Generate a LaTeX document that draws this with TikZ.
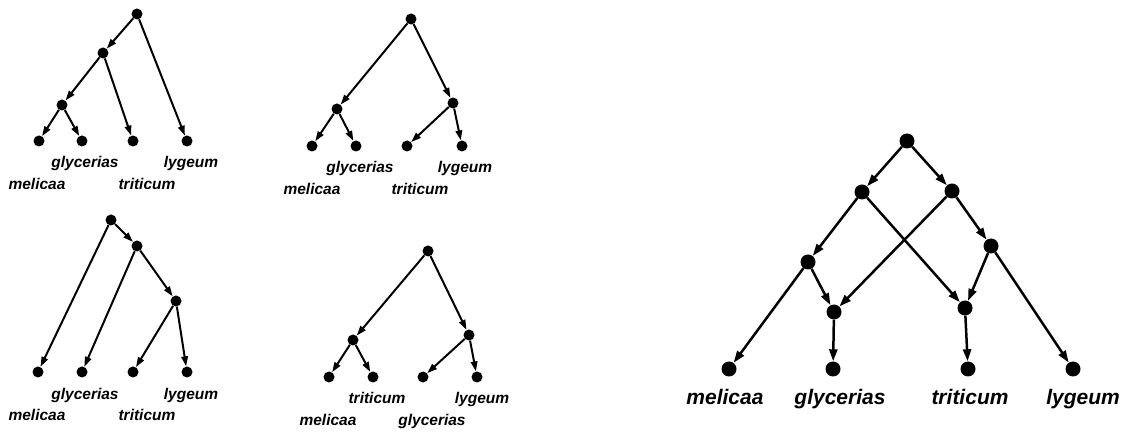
\documentclass[tikz,border=0pt]{standalone}
\usepackage{fontspec}
\setmainfont{Liberation Sans}
\usetikzlibrary{arrows.meta}
\begin{document}
\begin{tikzpicture}[x=1pt,y=-1pt,
  dot/.style={circle,fill=black,inner sep=0pt,minimum size=11pt},
  bigdot/.style={circle,fill=black,inner sep=0pt,minimum size=15pt},
  arr/.style={-{Triangle[length=10pt,width=6.5pt]},line width=2pt},
  bigarr/.style={-{Triangle[length=12pt,width=8pt]},line width=2.5pt},
  lbl/.style={inner sep=0pt,text height=0.72em,text depth=0.2em,font=\fontsize{15.5}{18}\selectfont\bfseries\itshape},
  biglbl/.style={inner sep=0pt,text height=0.72em,text depth=0.2em,font=\fontsize{21}{24}\selectfont\bfseries\itshape}]
\useasboundingbox (0,0) rectangle (1122,435);

% Tree 1
\node[dot] (a0) at (137,14) {};
\node[dot] (a1) at (103,53) {};
\node[dot] (a2) at (62,105) {};
\node[dot] (am) at (39,141) {};
\node[dot] (ag) at (82,141) {};
\node[dot] (at) at (133,141) {};
\node[dot] (al) at (187,141) {};
\draw[arr] (a0) -- (a1);
\draw[arr] (a0) -- (al);
\draw[arr] (a1) -- (a2);
\draw[arr] (a1) -- (at);
\draw[arr] (a2) -- (am);
\draw[arr] (a2) -- (ag);
\node[lbl] (agl) at (85,165) {glycerias};
\node[lbl] (all) at (191,165) {lygeum};
\node[lbl] (aml) at (37,187) {melicaa};
\node[lbl] (atl) at (147,187) {triticum};

% Tree 2
\node[dot] (b0) at (411,19) {};
\node[dot] (b1) at (337,109) {};
\node[dot] (b2) at (453,103) {};
\node[dot] (bm) at (312,146) {};
\node[dot] (bg) at (356,146) {};
\node[dot] (bt) at (407,146) {};
\node[dot] (bl) at (462,146) {};
\draw[arr] (b0) -- (b1);
\draw[arr] (b0) -- (b2);
\draw[arr] (b1) -- (bm);
\draw[arr] (b1) -- (bg);
\draw[arr] (b2) -- (bt);
\draw[arr] (b2) -- (bl);
\node[lbl] (bgl) at (360,170) {glycerias};
\node[lbl] (bll) at (465,170) {lygeum};
\node[lbl] (bml) at (312,192) {melicaa};
\node[lbl] (btl) at (420,192) {triticum};

% Tree 3
\node[dot] (c0) at (111,220) {};
\node[dot] (c1) at (137,246) {};
\node[dot] (c2) at (176,301) {};
\node[dot] (cm) at (38,372) {};
\node[dot] (cg) at (82,372) {};
\node[dot] (ct) at (133,372) {};
\node[dot] (cl) at (187,372) {};
\draw[arr] (c0) -- (c1);
\draw[arr] (c0) -- (cm);
\draw[arr] (c1) -- (cg);
\draw[arr] (c1) -- (c2);
\draw[arr] (c2) -- (ct);
\draw[arr] (c2) -- (cl);
\node[lbl] (cgl) at (85,397) {glycerias};
\node[lbl] (cll) at (191,397) {lygeum};
\node[lbl] (cml) at (37,418) {melicaa};
\node[lbl] (ctl) at (147,418) {triticum};

% Tree 4
\node[dot] (d0) at (428,251) {};
\node[dot] (d1) at (353,340) {};
\node[dot] (d2) at (469,335) {};
\node[dot] (dm) at (329,377) {};
\node[dot] (dt) at (373,377) {};
\node[dot] (dg) at (423,377) {};
\node[dot] (dl) at (477,377) {};
\draw[arr] (d0) -- (d1);
\draw[arr] (d0) -- (d2);
\draw[arr] (d1) -- (dm);
\draw[arr] (d1) -- (dt);
\draw[arr] (d2) -- (dg);
\draw[arr] (d2) -- (dl);
\node[lbl] (dtl) at (377,401) {triticum};
\node[lbl] (dll) at (482,401) {lygeum};
\node[lbl] (dml) at (328,423) {melicaa};
\node[lbl] (dgl) at (432,423) {glycerias};

% Tree 5 (network)
\node[bigdot] (e0) at (907,141) {};
\node[bigdot] (eA) at (862,192) {};
\node[bigdot] (eB) at (952,191) {};
\node[bigdot] (eC) at (808,262) {};
\node[bigdot] (eD) at (991,246) {};
\node[bigdot] (eG) at (834,312) {};
\node[bigdot] (eT) at (965,308) {};
\node[bigdot] (em) at (729,369) {};
\node[bigdot] (eg) at (833,369) {};
\node[bigdot] (et) at (968,369) {};
\node[bigdot] (el) at (1073,369) {};
\draw[bigarr] (e0) -- (eA);
\draw[bigarr] (e0) -- (eB);
\draw[bigarr] (eA) -- (eC);
\draw[bigarr] (eA) -- (eT);
\draw[bigarr] (eB) -- (eG);
\draw[bigarr] (eB) -- (eD);
\draw[bigarr] (eC) -- (em);
\draw[bigarr] (eC) -- (eG);
\draw[bigarr] (eD) -- (eT);
\draw[bigarr] (eD) -- (el);
\draw[bigarr] (eG) -- (eg);
\draw[bigarr] (eT) -- (et);
\node[biglbl] (eml) at (725,402) {melicaa};
\node[biglbl] (egl) at (840,402) {glycerias};
\node[biglbl] (etl) at (970,402) {triticum};
\node[biglbl] (ell) at (1083,402) {lygeum};
\end{tikzpicture}
\end{document}
